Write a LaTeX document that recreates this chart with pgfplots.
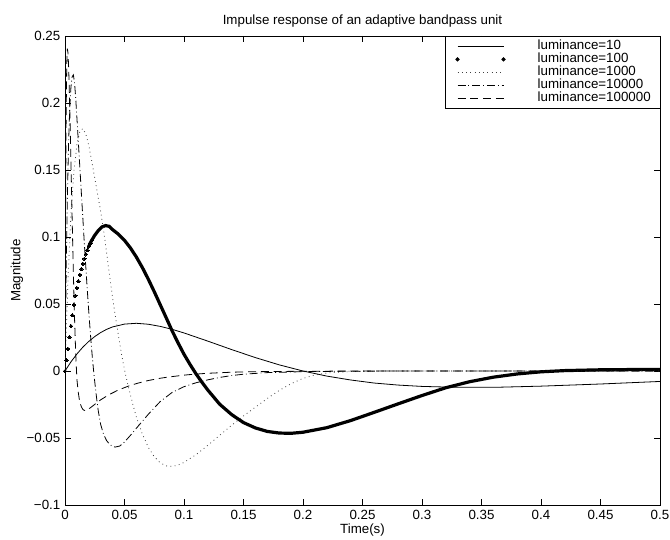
\documentclass[border=0pt]{standalone}
\usepackage{fontspec}
\setmainfont{Liberation Sans}
\usepackage{pgfplots}
\pgfplotsset{compat=1.18}
\newcommand{\ff}{\fontsize{10}{12}\selectfont}
\begin{document}
\ff
\begin{tikzpicture}
\useasboundingbox (-48.75pt,-25.5pt) rectangle (453.75pt,378.75pt);
\begin{axis}[
  at={(0pt,0pt)}, anchor=south west,
  scale only axis, width=446.25pt, height=351.75pt,
  xmin=0, xmax=0.5, ymin=-0.1, ymax=0.25,
  xtick={0,0.05,0.1,0.15,0.2,0.25,0.3,0.35,0.4,0.45,0.5},
  xticklabels={0,0.05,0.1,0.15,0.2,0.25,0.3,0.35,0.4,0.45,0.5},
  ytick={-0.1,-0.05,0,0.05,0.1,0.15,0.2,0.25},
  yticklabels={−0.1,−0.05,0,0.05,0.1,0.15,0.2,0.25},
  tick align=inside, tick pos=both, xticklabel pos=lower, yticklabel pos=left,
  major tick length=4.5pt,
  every tick/.style={black, line width=0.5pt},
  axis line style={line width=0.6pt},
  tick label style={font=\ff},
  every axis title/.style={at={(axis description cs:0.5,1.031)}, anchor=center, font=\ff},
  title={Impulse response of an adaptive bandpass unit},
  every axis x label/.style={at={(axis description cs:0.5,-0.054)}, anchor=center, font=\ff},
  xlabel={Time(s)},
  every axis y label/.style={at={(axis description cs:-0.0807,0.5)}, anchor=center, rotate=90, font=\ff},
  ylabel={Magnitude},
  legend style={at={(rel axis cs:0.6387,1)}, anchor=north west, draw=black, line width=0.6pt, fill=white,
    font=\ff, inner xsep=7.5pt, inner ysep=2.6pt, row sep=0pt, column sep=24pt,
    nodes={inner sep=0pt, text height=7.5pt, text depth=2.25pt}},
  legend cell align=left,
  legend image code/.code={\draw[#1] (0pt,0pt) -- (34.5pt,0pt);},
]
% luminance=10
\addplot[black, line width=0.6pt] coordinates {
(0,0) (0.005,0.0068) (0.01,0.0127) (0.015,0.0178) (0.02,0.0221) (0.025,0.0257)
(0.03,0.0287) (0.035,0.0311) (0.04,0.0329) (0.05,0.0350) (0.06,0.0356) (0.07,0.0349)
(0.08,0.0333) (0.09,0.0311) (0.10,0.0284) (0.12,0.0223) (0.14,0.0160) (0.16,0.0100)
(0.18,0.0046) (0.20,0.0000) (0.22,-0.0038) (0.24,-0.0067) (0.26,-0.0090) (0.28,-0.0105)
(0.30,-0.0115) (0.33,-0.0122) (0.36,-0.0122) (0.40,-0.0113) (0.45,-0.0097) (0.50,-0.0078)
};
\addlegendentry{luminance=10}
% luminance=100 : dots
\addplot[black, only marks, mark=*, mark size=1.3pt, mark options={fill=black, line width=0pt},
  legend image code/.code={\fill[black] (0pt,0pt) circle (1.3pt); \fill[black] (34.5pt,0pt) circle (1.3pt);}]
coordinates {
(0,0) (0.00125,0.0081) (0.0025,0.0165) (0.00375,0.0253) (0.005,0.0335) (0.00625,0.0416)
(0.0075,0.0494) (0.00875,0.0561) (0.010,0.0620) (0.01125,0.0670) (0.0125,0.0718)
(0.01375,0.0761) (0.015,0.0800) (0.01625,0.0837) (0.0175,0.0871) (0.01875,0.0902)
(0.020,0.0930) (0.02125,0.0954) (0.0225,0.0976)
};
\addlegendentry{luminance=100}
\addplot[black, line width=2.4pt, forget plot] coordinates {
(0.020,0.0930) (0.022,0.0968) (0.025,0.1013) (0.028,0.1048) (0.031,0.1075) (0.034,0.1085)
(0.037,0.1080) (0.040,0.1055) (0.045,0.1020) (0.050,0.0975) (0.055,0.0918) (0.060,0.0850)
(0.065,0.0772) (0.070,0.0685) (0.075,0.0592) (0.080,0.0495) (0.085,0.0398) (0.090,0.0300)
(0.095,0.0210) (0.100,0.0125) (0.105,0.0050) (0.110,-0.0020) (0.115,-0.0083) (0.120,-0.0142)
(0.130,-0.0248) (0.140,-0.0325) (0.150,-0.0385) (0.160,-0.0425) (0.170,-0.0451) (0.180,-0.0463)
(0.190,-0.0465) (0.200,-0.0457) (0.220,-0.0423) (0.240,-0.0370) (0.260,-0.0308) (0.280,-0.0245)
(0.300,-0.0183) (0.320,-0.0125) (0.340,-0.0080) (0.360,-0.0046) (0.380,-0.0022) (0.400,-0.0006)
(0.420,0.0003) (0.450,0.0009) (0.480,0.0011) (0.500,0.0011)
};
% luminance=1000
\addplot[black!75, line width=0.6pt, dash pattern=on 0.6pt off 2.6pt] coordinates {
(0,0) (0.0025,0.0681) (0.005,0.1167) (0.0075,0.1492) (0.010,0.1691) (0.0125,0.1789)
(0.015,0.1809) (0.0175,0.1768) (0.020,0.1683) (0.0225,0.1565) (0.025,0.1440) (0.0275,0.1315)
(0.030,0.1190) (0.0325,0.1045) (0.035,0.0880) (0.0375,0.0710) (0.040,0.0545) (0.0425,0.0400)
(0.045,0.0260) (0.0475,0.0125) (0.050,0.0010) (0.0525,-0.0090) (0.055,-0.0180) (0.0575,-0.0265)
(0.060,-0.0345) (0.065,-0.0470) (0.070,-0.0570) (0.075,-0.0640) (0.080,-0.0685) (0.085,-0.0708)
(0.090,-0.0712) (0.095,-0.0702) (0.100,-0.0682) (0.110,-0.0625) (0.120,-0.0555) (0.130,-0.0480)
(0.140,-0.0405) (0.150,-0.0335) (0.160,-0.0270) (0.170,-0.0205) (0.180,-0.0145) (0.190,-0.0095)
(0.200,-0.0055) (0.210,-0.0030) (0.220,-0.0015) (0.240,-0.0004) (0.270,0) (0.50,0)
};
\addlegendentry{luminance=1000}
% luminance=10000
\addplot[black, line width=0.6pt, dash pattern=on 6pt off 2.2pt on 0.6pt off 2.2pt] coordinates {
(0,0) (0.001,0.075) (0.002,0.130) (0.003,0.170) (0.004,0.197) (0.005,0.212) (0.006,0.2195)
(0.007,0.2210) (0.008,0.2155) (0.009,0.2035) (0.010,0.1890) (0.011,0.1740) (0.012,0.1590)
(0.013,0.1440) (0.014,0.1290) (0.015,0.1140) (0.016,0.0990) (0.017,0.0845) (0.018,0.0705)
(0.019,0.0570) (0.020,0.0440) (0.021,0.0318) (0.022,0.0205) (0.023,0.0100) (0.024,0.0005)
(0.025,-0.0080) (0.026,-0.0160) (0.027,-0.0235) (0.028,-0.0300) (0.030,-0.0400) (0.0325,-0.0475)
(0.035,-0.0520) (0.038,-0.0552) (0.042,-0.0568) (0.046,-0.0560) (0.050,-0.0530) (0.055,-0.0480)
(0.060,-0.0427) (0.065,-0.0375) (0.070,-0.0323) (0.080,-0.0228) (0.090,-0.0160) (0.100,-0.0117)
(0.110,-0.0088) (0.120,-0.0066) (0.130,-0.0048) (0.140,-0.0034) (0.150,-0.0024) (0.170,-0.0012)
(0.200,-0.0005) (0.250,-0.0001) (0.300,0) (0.500,0)
};
\addlegendentry{luminance=10000}
% luminance=100000
\addplot[black, line width=0.6pt, dash pattern=on 6pt off 3.6pt] coordinates {
(0,0) (0.0005,0.125) (0.001,0.195) (0.0015,0.230) (0.002,0.2405) (0.0025,0.2375) (0.003,0.2280)
(0.0035,0.2135) (0.004,0.1960) (0.005,0.1560) (0.006,0.1140) (0.007,0.0740) (0.008,0.0400)
(0.009,0.0130) (0.010,-0.0060) (0.011,-0.0150) (0.012,-0.0210) (0.013,-0.0248) (0.014,-0.0272)
(0.015,-0.0286) (0.016,-0.0293) (0.0175,-0.0296) (0.019,-0.0289) (0.022,-0.0270) (0.026,-0.0242)
(0.030,-0.0215) (0.0367,-0.0178) (0.045,-0.0141) (0.055,-0.0107) (0.062,-0.0089) (0.070,-0.0071)
(0.080,-0.0054) (0.087,-0.0045) (0.100,-0.0031) (0.107,-0.0025) (0.120,-0.0017) (0.140,-0.0009)
(0.160,-0.0005) (0.200,-0.0002) (0.250,0) (0.500,0)
};
\addlegendentry{luminance=100000}
\end{axis}
\end{tikzpicture}
\end{document}
